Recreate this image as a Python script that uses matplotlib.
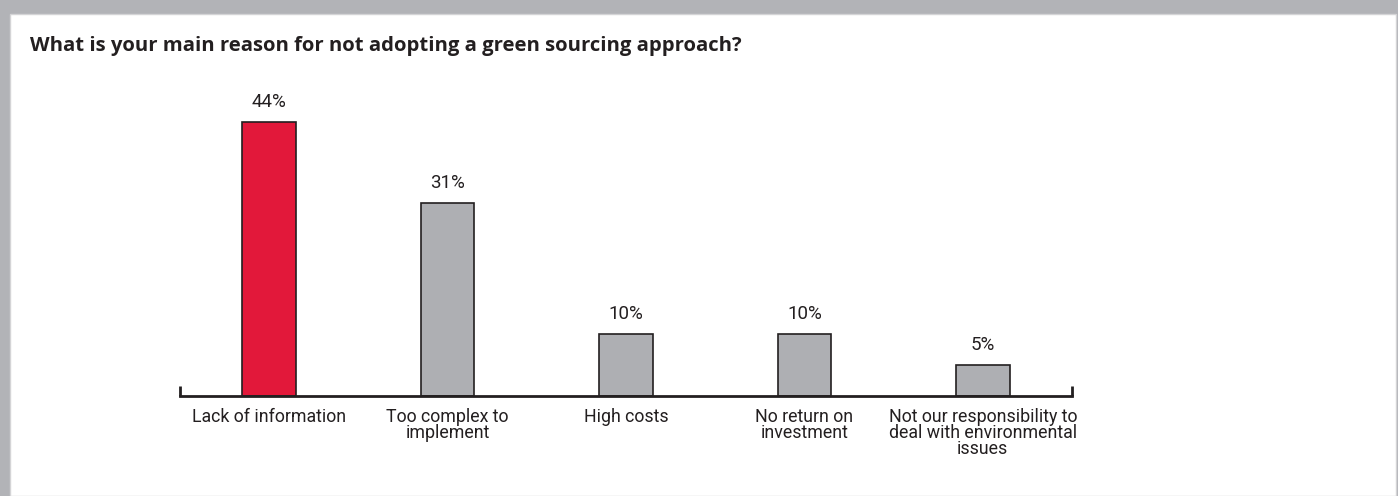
import matplotlib
matplotlib.use('Agg')
import matplotlib.pyplot as plt
from matplotlib.patches import Rectangle

categories = ['Lack of information', 'Too complex to\nimplement', 'High costs',
              'No return on\ninvestment',
              'Not our responsibility to\ndeal with environmental\nissues']
values = [44, 31, 10, 10, 5]
highlight = 0

RED = '#e2183a'
GREY = '#aeafb3'
EDGE = '#231f20'
PANEL_BG = '#b2b3b7'

plt.rcParams['font.family'] = ['Roboto', 'DejaVu Sans']

fig = plt.figure(figsize=(13.98, 4.96), dpi=100)
fig.patch.set_facecolor(PANEL_BG)

# white panel inside the grey frame
W, H = 1398, 496
bg = fig.add_axes([0, 0, 1, 1], zorder=-5)
bg.set_axis_off()
bg.set_xlim(0, W)
bg.set_ylim(0, H)
bg.add_patch(Rectangle((10, 0), 1386, 482, facecolor='white', edgecolor='#d4d4d6', linewidth=1))

fig.text(30 / W, 1 - 46 / H, 'What is your main reason for not adopting a green sourcing approach?',
         fontsize=14.6, fontweight='bold', color='#231f20', va='center', ha='left',
         family=['Open Sans', 'DejaVu Sans'])

ax = fig.add_axes([180 / W, 100 / H, 892 / W, 311.5 / H])
ax.set_facecolor('none')

colors = [RED if i == highlight else GREY for i in range(len(values))]
bars = ax.bar(range(len(values)), values, width=0.3, color=colors,
              edgecolor=EDGE, linewidth=1.2, zorder=2)

for rect, v in zip(bars, values):
    ax.annotate(f'{v}%', (rect.get_x() + rect.get_width() / 2, v),
                xytext=(0, 8), textcoords='offset points', ha='center', va='bottom',
                fontsize=13.5, color='#231f20')

ax.set_xlim(-0.5, len(values) - 0.5)
ax.set_ylim(0, 50)
ax.set_yticks([])
for s in ['top', 'right', 'left']:
    ax.spines[s].set_visible(False)
ax.spines['bottom'].set_linewidth(2)
ax.spines['bottom'].set_color(EDGE)

ax.set_xticks(range(len(values)))
ax.set_xticklabels(categories, fontsize=12.8, color='#231f20', linespacing=0.85, va='top')
ax.tick_params(axis='x', which='major', length=0, pad=9)
ax.set_xticks([-0.5, len(values) - 0.5], minor=True)
ax.tick_params(axis='x', which='minor', direction='in', length=7, width=2, color=EDGE)

fig.savefig('out.png', dpi=100, facecolor=fig.get_facecolor())
